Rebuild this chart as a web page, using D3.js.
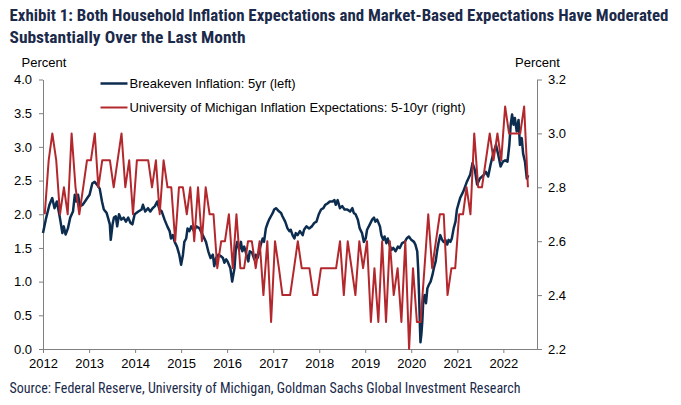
<!DOCTYPE html>
<html><head><meta charset="utf-8">
<script src="https://cdn.jsdelivr.net/npm/d3@7"></script>
<style>body{margin:0;background:#fff}svg{display:block}</style>
</head><body>
<svg id="c" width="681" height="405"></svg>
<script>
// ---- data ----
const titleLines = ["Exhibit 1: Both Household Inflation Expectations and Market-Based Expectations Have Moderated",
                    "Substantially Over the Last Month"];
const sourceText = "Source: Federal Reserve, University of Michigan, Goldman Sachs Global Investment Research";
const seriesNames = ["Breakeven Inflation: 5yr (left)", "University of Michigan Inflation Expectations: 5-10yr (right)"];
const yearTicks = [2012,2013,2014,2015,2016,2017,2018,2019,2020,2021,2022];
const leftTicks = [0,0.5,1,1.5,2,2.5,3,3.5,4];
const rightTicks = [2.2,2.4,2.6,2.8,3.0,3.2];

// University of Michigan 5-10yr expectations, monthly from Jan 2012
const michiganStart = [2012, 0];
const michiganValues = [
  2.7,2.9,3.0,2.9,2.7,2.8,2.7,3.0,2.8,2.7,2.8,2.9,
  2.9,3.0,2.8,2.9,2.9,2.9,2.8,2.9,3.0,2.8,2.9,2.7,
  2.9,2.9,2.9,2.9,2.8,2.9,2.7,2.9,2.8,2.8,2.6,2.8,
  2.8,2.7,2.8,2.6,2.8,2.6,2.8,2.7,2.7,2.5,2.6,2.6,
  2.7,2.5,2.7,2.5,2.5,2.6,2.6,2.5,2.6,2.4,2.6,2.3,
  2.6,2.5,2.4,2.4,2.4,2.5,2.6,2.5,2.5,2.5,2.4,2.4,
  2.5,2.5,2.5,2.5,2.5,2.6,2.4,2.6,2.5,2.4,2.6,2.5,
  2.6,2.3,2.5,2.3,2.6,2.3,2.6,2.4,2.5,2.3,2.6,2.2,
  2.5,2.3,2.3,2.5,2.7,2.5,2.6,2.7,2.7,2.4,2.5,2.5,
  2.7,2.7,2.8,2.7,3.0,2.8,2.8,2.9,3.0,2.9,3.0,2.9,
  3.1,3.0,3.0,3.0,3.0,3.1,2.8
];

// 5yr breakeven inflation: [decimal year, percent]
const breakeven = [
[2012.00,1.72],[2012.07,1.95],[2012.14,2.14],[2012.20,2.24],[2012.25,2.09],[2012.30,2.19],[2012.35,2.01],[2012.38,1.89],
[2012.42,1.72],[2012.45,1.82],[2012.49,1.70],[2012.54,1.79],[2012.59,1.95],[2012.65,2.04],[2012.69,2.29],[2012.72,2.19],
[2012.76,2.29],[2012.80,2.12],[2012.86,2.14],[2012.91,2.19],[2012.96,2.24],[2013.01,2.29],[2013.07,2.46],[2013.12,2.48],
[2013.17,2.44],[2013.23,2.38],[2013.28,2.19],[2013.32,2.07],[2013.38,2.02],[2013.41,1.95],[2013.45,1.85],[2013.47,1.62],
[2013.51,1.85],[2013.54,1.95],[2013.58,1.97],[2013.61,1.82],[2013.65,2.00],[2013.70,1.92],[2013.75,1.95],[2013.80,1.89],
[2013.85,1.95],[2013.90,1.87],[2013.94,1.85],[2013.99,2.00],[2014.07,2.04],[2014.14,2.07],[2014.17,2.14],[2014.22,2.04],
[2014.28,2.09],[2014.33,2.04],[2014.38,2.09],[2014.43,2.12],[2014.48,2.19],[2014.53,2.07],[2014.58,2.04],[2014.64,1.92],
[2014.70,1.82],[2014.75,1.75],[2014.78,1.64],[2014.82,1.69],[2014.86,1.59],[2014.91,1.52],[2014.96,1.40],[2015.00,1.25],
[2015.04,1.40],[2015.07,1.59],[2015.11,1.64],[2015.14,1.79],[2015.18,1.75],[2015.22,1.82],[2015.28,1.75],[2015.33,1.82],
[2015.40,1.79],[2015.47,1.69],[2015.54,1.59],[2015.59,1.45],[2015.64,1.35],[2015.69,1.40],[2015.72,1.23],[2015.76,1.35],
[2015.81,1.40],[2015.86,1.38],[2015.91,1.35],[2015.94,1.28],[2015.98,1.33],[2016.01,1.30],[2016.07,1.20],[2016.11,1.00],
[2016.16,1.20],[2016.19,1.50],[2016.22,1.59],[2016.26,1.47],[2016.30,1.59],[2016.33,1.45],[2016.37,1.52],[2016.42,1.40],
[2016.46,1.30],[2016.49,1.45],[2016.54,1.43],[2016.59,1.33],[2016.62,1.40],[2016.66,1.35],[2016.70,1.45],[2016.73,1.55],
[2016.77,1.64],[2016.80,1.59],[2016.84,1.79],[2016.88,1.87],[2016.91,1.92],[2016.95,1.97],[2016.99,2.02],[2017.02,2.07],
[2017.06,2.09],[2017.09,2.07],[2017.13,2.04],[2017.17,2.02],[2017.20,1.97],[2017.26,1.89],[2017.31,1.79],[2017.35,1.75],
[2017.38,1.77],[2017.42,1.69],[2017.46,1.64],[2017.49,1.72],[2017.53,1.69],[2017.58,1.75],[2017.64,1.69],[2017.67,1.77],
[2017.72,1.82],[2017.78,1.79],[2017.84,1.82],[2017.89,1.87],[2017.94,1.89],[2017.99,2.00],[2018.04,2.07],[2018.09,2.09],
[2018.13,2.14],[2018.18,2.16],[2018.23,2.19],[2018.29,2.19],[2018.33,2.21],[2018.36,2.14],[2018.40,2.21],[2018.45,2.09],
[2018.50,2.12],[2018.55,2.07],[2018.61,2.07],[2018.67,2.04],[2018.72,2.09],[2018.75,2.02],[2018.79,2.00],[2018.84,1.92],
[2018.88,1.79],[2018.93,1.72],[2018.97,1.59],[2019.01,1.64],[2019.04,1.77],[2019.10,1.85],[2019.15,1.92],[2019.19,1.95],
[2019.22,1.89],[2019.26,1.92],[2019.32,1.82],[2019.35,1.69],[2019.39,1.62],[2019.42,1.67],[2019.46,1.57],[2019.49,1.64],
[2019.54,1.52],[2019.57,1.47],[2019.61,1.50],[2019.66,1.45],[2019.71,1.52],[2019.75,1.50],[2019.80,1.57],[2019.86,1.59],
[2019.90,1.64],[2019.95,1.67],[2020.00,1.62],[2020.06,1.59],[2020.09,1.55],[2020.13,1.45],[2020.15,1.20],[2020.17,0.80],
[2020.19,0.30],[2020.20,0.10],[2020.22,0.22],[2020.24,0.41],[2020.26,0.70],[2020.29,0.80],[2020.32,0.68],[2020.35,0.90],
[2020.38,0.95],[2020.42,1.00],[2020.46,1.10],[2020.49,1.20],[2020.53,1.30],[2020.56,1.45],[2020.59,1.57],[2020.63,1.69],
[2020.67,1.62],[2020.70,1.59],[2020.74,1.62],[2020.78,1.55],[2020.81,1.62],[2020.85,1.59],[2020.88,1.64],[2020.92,1.79],
[2020.96,1.89],[2020.99,2.07],[2021.06,2.24],[2021.13,2.34],[2021.20,2.47],[2021.28,2.59],[2021.33,2.76],[2021.38,2.66],
[2021.43,2.44],[2021.49,2.53],[2021.57,2.58],[2021.62,2.63],[2021.67,2.56],[2021.72,2.73],[2021.78,2.90],[2021.84,3.03],
[2021.89,2.88],[2021.94,2.71],[2021.99,2.78],[2022.04,2.80],[2022.09,2.78],[2022.13,3.03],[2022.16,3.33],[2022.19,3.48],
[2022.22,3.33],[2022.25,3.43],[2022.29,3.23],[2022.33,3.40],[2022.36,3.03],[2022.40,3.13],[2022.43,2.90],[2022.47,2.78],
[2022.51,2.53],[2022.54,2.58]
];

// ---- helpers ----
function fromDecYear(t){const y=Math.floor(t);const s=new Date(y,0,1),e=new Date(y+1,0,1);return new Date(+s+(t-y)*(e-s));}
const blueData = breakeven.map(d=>({date:fromDecYear(d[0]),v:d[1]}));
const redData = michiganValues.map((v,i)=>({date:new Date(michiganStart[0],michiganStart[1]+i,15),v}));

const svg = d3.select("#c");
const navy = "#1b2a4a", blue = "#0c2d50", red = "#b3282d", axisGray = "#808080";
const sans = "'Liberation Sans', Arial, sans-serif";
const cond = "'Roboto Condensed','DejaVu Sans Condensed','Liberation Sans Narrow',Roboto,sans-serif";

const x = d3.scaleTime().domain([new Date(2012,0,1), new Date(2022,8,25)]).range([43,537]);
const yL = d3.scaleLinear().domain([0,4]).range([349,79.5]);
const yR = d3.scaleLinear().domain([2.2,3.2]).range([349,79.5]);

// title
svg.append("text").attr("x",9.5).attr("y",20.5).attr("fill",navy).attr("font-family",cond).attr("font-weight","bold")
  .attr("font-size",17).attr("textLength",659).attr("lengthAdjust","spacingAndGlyphs").text(titleLines[0]);
svg.append("text").attr("x",9.5).attr("y",42.5).attr("fill",navy).attr("font-family",cond).attr("font-weight","bold")
  .attr("font-size",17).attr("textLength",236).attr("lengthAdjust","spacingAndGlyphs").text(titleLines[1]);

// source
svg.append("text").attr("x",9.5).attr("y",393).attr("fill",navy).attr("font-family",cond)
  .attr("font-size",14).attr("textLength",511).attr("lengthAdjust","spacingAndGlyphs").text(sourceText);

// axis unit labels
svg.append("text").attr("x",21.5).attr("y",66.5).attr("font-family",sans).attr("font-size",13).attr("fill","#000").text("Percent");
svg.append("text").attr("x",515).attr("y",66.5).attr("font-family",sans).attr("font-size",13).attr("fill","#000").text("Percent");

// axes
function styleAxis(g){
  g.selectAll("path.domain").attr("stroke",axisGray);
  g.selectAll(".tick line").attr("stroke",axisGray);
  g.selectAll(".tick text").attr("fill","#000").attr("font-family",sans).attr("font-size",13);
}
const gL = svg.append("g").attr("transform","translate(43,0)")
  .call(d3.axisLeft(yL).tickValues(leftTicks).tickFormat(d3.format(".1f")).tickSize(4).tickSizeOuter(0).tickPadding(7));
styleAxis(gL);
const gR = svg.append("g").attr("transform","translate(537,0)")
  .call(d3.axisRight(yR).tickValues(rightTicks).tickFormat(d3.format(".1f")).tickSize(5).tickSizeOuter(0).tickPadding(6));
styleAxis(gR);
const gB = svg.append("g").attr("transform","translate(0,349)")
  .call(d3.axisBottom(x).tickValues(yearTicks.map(y=>new Date(y,0,1))).tickFormat(d3.timeFormat("%Y")).tickSize(4).tickSizeOuter(0).tickPadding(6));
styleAxis(gB);

// lines
const lineL = d3.line().x(d=>x(d.date)).y(d=>yL(d.v));
const lineR = d3.line().x(d=>x(d.date)).y(d=>yR(d.v));
svg.append("path").datum(blueData).attr("d",lineL).attr("fill","none").attr("stroke",blue).attr("stroke-width",2.5).attr("stroke-linejoin","round");
svg.append("path").datum(redData).attr("d",lineR).attr("fill","none").attr("stroke",red).attr("stroke-width",2).attr("stroke-linejoin","round");

// legend
const leg = [{c:blue,y:83.5,w:2.5},{c:red,y:107.5,w:2}];
leg.forEach((l,i)=>{
  svg.append("line").attr("x1",100.5).attr("x2",127.5).attr("y1",l.y).attr("y2",l.y).attr("stroke",l.c).attr("stroke-width",l.w);
  svg.append("text").attr("x",129.5).attr("y",l.y+4.7).attr("font-family",sans).attr("font-size",13).attr("fill","#000").text(seriesNames[i]);
});
</script>
</body></html>
